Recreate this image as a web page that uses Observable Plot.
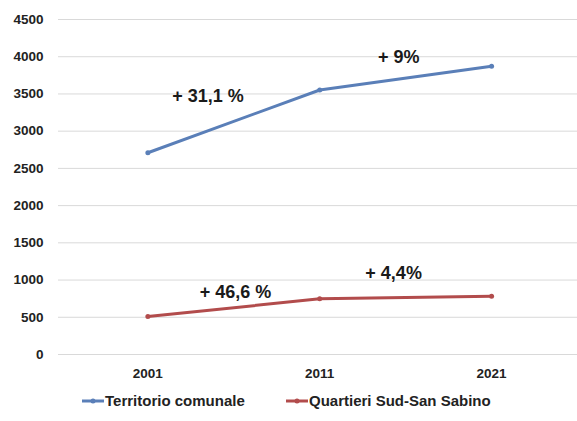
<!DOCTYPE html>
<html>
<head>
<meta charset="utf-8">
<script src="https://cdn.jsdelivr.net/npm/d3@7"></script>
<script src="https://cdn.jsdelivr.net/npm/@observablehq/plot@0.6"></script>
<style>
  body { margin: 0; background: #fff; font-family: "Liberation Sans", Arial, sans-serif; }
  #chart { width: 577px; }
  .legend { font-weight: bold; font-size: 15px; color: #222; }
  .item { display: flex; align-items: center; position: absolute; top: 392px; }
  .item svg { margin-right: 1px; }
</style>
</head>
<body>
<div id="chart"></div>
<script>
const years = [2001, 2011, 2021];
const territorio = [2710, 3553, 3873];
const quartieri = [510, 748, 781];
const seriesNames = ["Territorio comunale", "Quartieri Sud-San Sabino"];
const seriesColors = ["#5a7fb8", "#b24c4c"];
const yTicks = [0, 500, 1000, 1500, 2000, 2500, 3000, 3500, 4000, 4500];
const labelText = ["+ 31,1 %", "+ 9%", "+ 46,6 %", "+ 4,4%"];
const labelX = [2004.5, 2015.6, 2006.1, 2015.3];
const labelY = [3466, 3990, 833, 1088];

const rows = [];
years.forEach((yr, i) => {
  rows.push({year: yr, value: territorio[i], series: seriesNames[0]});
  rows.push({year: yr, value: quartieri[i], series: seriesNames[1]});
});
const labels = labelText.map((t, i) => ({text: t, x: labelX[i], y: labelY[i]}));

const plot = Plot.plot({
  width: 577,
  height: 385,
  marginLeft: 58,
  marginRight: 0,
  marginTop: 19,
  marginBottom: 31,
  style: {fontFamily: '"Liberation Sans", Arial, sans-serif', fontSize: "13.5px", fontWeight: "bold", color: "#222", background: "#fff"},
  x: {domain: [1995.8, 2026], ticks: years, tickFormat: "d", tickSize: 0, tickPadding: 14, label: null},
  y: {domain: [0, 4500], ticks: yTicks, tickFormat: "d", tickSize: 0, tickPadding: 15, label: null, grid: false},
  color: {domain: seriesNames, range: seriesColors},
  marks: [
    Plot.ruleY(yTicks, {stroke: "#d9d9d9", strokeWidth: 1}),
    Plot.line(rows, {x: "year", y: "value", z: "series", stroke: "series", strokeWidth: 3}),
    Plot.dot(rows, {x: "year", y: "value", fill: "series", r: 2.5}),
    Plot.text(labels, {x: "x", y: "y", text: "text", fontSize: 18, fontWeight: "bold", fill: "#1a1a1a"})
  ]
});
document.getElementById("chart").appendChild(plot);

const legend = document.createElement("div");
legend.className = "legend";
const lefts = [82, 286];
seriesNames.forEach((n, i) => {
  const it = document.createElement("div");
  it.className = "item";
  it.style.left = lefts[i] + "px";
  it.innerHTML = `<svg width="22" height="10"><line x1="0" y1="5" x2="22" y2="5" stroke="${seriesColors[i]}" stroke-width="3"/><circle cx="11" cy="5" r="2.5" fill="${seriesColors[i]}"/></svg><span>${n}</span>`;
  legend.appendChild(it);
});
document.body.appendChild(legend);
</script>
</body>
</html>
